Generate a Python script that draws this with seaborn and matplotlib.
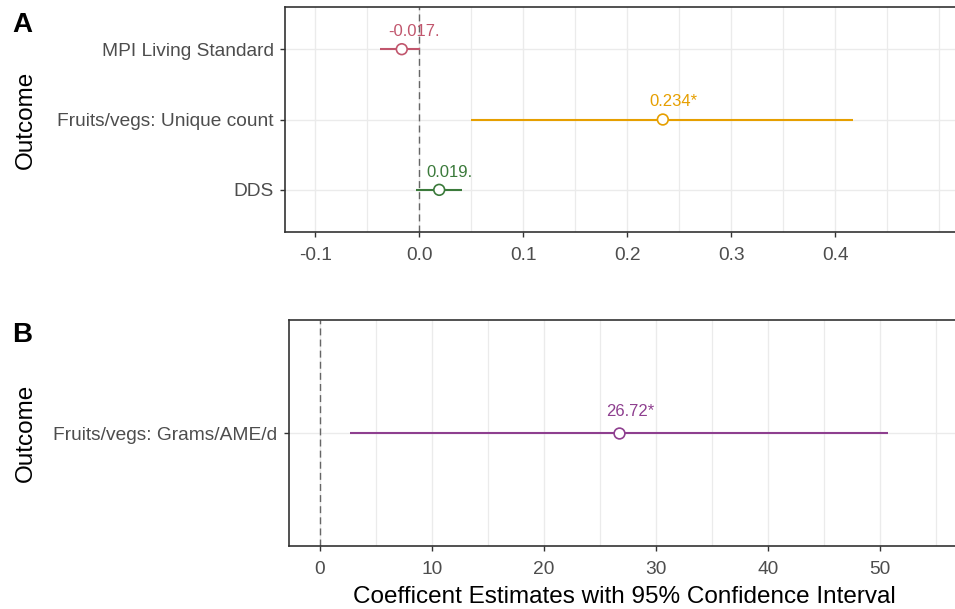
import pandas as pd
import matplotlib
matplotlib.use("Agg")
import matplotlib.pyplot as plt
import matplotlib.transforms as mtransforms
from matplotlib.ticker import FixedLocator, MultipleLocator, FormatStrFormatter
import seaborn as sns

# Panel A data (top to bottom)
outcomes_a = ["MPI Living Standard", "Fruits/vegs: Unique count", "DDS"]
est_a = [-0.017, 0.234, 0.019]
lo_a = [-0.038, 0.050, -0.003]
hi_a = [0.001, 0.417, 0.041]
labels_a = ["-0.017.", "0.234*", "0.019."]
colors_a = ["#C1566D", "#E69F00", "#3B7A3B"]

# Panel B data
outcomes_b = ["Fruits/vegs: Grams/AME/d"]
est_b = [26.72]
lo_b = [2.68]
hi_b = [50.66]
labels_b = ["26.72*"]
colors_b = ["#8E3F8F"]

sns.set_theme(style="white")
plt.rcParams["font.family"] = ["Liberation Sans", "DejaVu Sans"]
plt.rcParams["axes.unicode_minus"] = False

fig = plt.figure(figsize=(9.55, 6.09), dpi=100)
ax_a = fig.add_axes([0.2984, 0.6190, 0.7068, 0.3695])
ax_b = fig.add_axes([0.3021, 0.1034, 0.7031, 0.3711])


def draw_panel(ax, outcomes, est, lo, hi, labels, colors, text_dy):
    df = pd.DataFrame({"outcome": outcomes, "est": est, "lo": lo, "hi": hi})
    ax.axvline(0, color="#666666", lw=1.0, ls=(0, (5, 3)), zorder=1.5)
    ax.hlines(df["outcome"], df["lo"], df["hi"], colors=colors, lw=1.5, zorder=2)
    sns.scatterplot(data=df, x="est", y="outcome", hue="outcome", palette=colors,
                    s=60, facecolor="white", linewidth=1.2, legend=False,
                    zorder=3, ax=ax)
    # scatterplot with hue colours the faces; restyle edges
    coll = ax.collections[-1]
    coll.set_edgecolors(colors)
    coll.set_facecolors("white")
    for i, row in df.iterrows():
        ax.annotate(labels[i], (row["est"], row["outcome"]), xytext=(-9.5, text_dy),
                    textcoords="offset points", ha="left", va="baseline",
                    color=colors[i], fontsize=12)


def style_axes(ax, majors, minor, fmt, n):
    ax.xaxis.set_major_locator(FixedLocator(majors))
    ax.xaxis.set_minor_locator(MultipleLocator(minor))
    ax.xaxis.set_major_formatter(FormatStrFormatter(fmt))
    ax.grid(which="major", color="#EBEBEB", lw=1.0)
    ax.grid(which="minor", axis="x", color="#EBEBEB", lw=0.9)
    ax.set_axisbelow(True)
    for sp in ax.spines.values():
        sp.set_color("#333333")
        sp.set_linewidth(1.2)
    ax.tick_params(which="major", length=3.3, width=1.0, color="#333333",
                   labelcolor="#4D4D4D", labelsize=13.8, bottom=True, left=True)
    ax.tick_params(axis="x", which="major", pad=7.5)
    ax.tick_params(axis="y", which="major", pad=4.8)
    ax.tick_params(which="minor", length=0)
    ax.set_ylim(n - 1 + 0.6, -0.6)
    ax.set_ylabel("Outcome", fontsize=17.5, color="black")
    trans = mtransforms.blended_transform_factory(fig.transFigure, ax.transAxes)
    ax.yaxis.set_label_coords(37 / 955, 0.5, transform=trans)


draw_panel(ax_a, outcomes_a, est_a, lo_a, hi_a, labels_a, colors_a, 9.5)
style_axes(ax_a, [-0.1, 0.0, 0.1, 0.2, 0.3, 0.4], 0.05, "%.1f", 3)
ax_a.set_xlim(-0.1293, 0.5197)
ax_a.set_xlabel("")

draw_panel(ax_b, outcomes_b, est_b, lo_b, hi_b, labels_b, colors_b, 12)
style_axes(ax_b, [0, 10, 20, 30, 40, 50], 5, "%d", 1)
ax_b.set_xlim(-2.81, 57.11)
ax_b.set_xlabel("Coefficent Estimates with 95% Confidence Interval",
                fontsize=17.5, color="black", labelpad=6)

fig.text(12 / 955, 1 - 12 / 609, "A", fontsize=20, fontweight="bold",
         va="top", ha="left", color="black")
fig.text(12 / 955, 1 - 322 / 609, "B", fontsize=20, fontweight="bold",
         va="top", ha="left", color="black")

fig.savefig("out.png", dpi=100)
